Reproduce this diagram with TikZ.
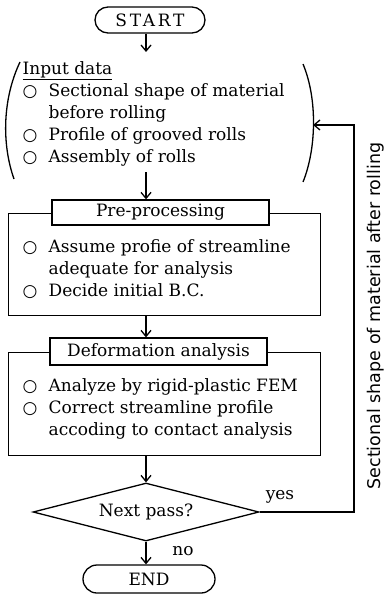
\documentclass[tikz,border=0pt]{standalone}
\usepackage{fontspec}
\setmainfont{DejaVu Serif}
\newfontfamily\sidefont{DejaVu Sans}
\usetikzlibrary{arrows.meta,shapes.geometric}
\newcommand{\bul}{\makebox[26pt][l]{\sidefont ○}}
\newcommand{\ind}{\hspace*{26pt}}
\begin{document}
\begin{tikzpicture}[x=1pt,y=-1pt,line width=1.3pt,
  every node/.style={font=\fontsize{17}{22}\selectfont},
  arr/.style={-{Straight Barb[length=6pt,width=10pt]}},
  term/.style={draw,rounded corners=13pt,minimum width=110pt,minimum height=26pt,inner sep=0pt},
  hdr/.style={draw,fill=white,minimum width=217pt,inner sep=0pt},
  frame/.style={draw,minimum width=312pt,anchor=north west,inner sep=0pt},
  body/.style={align=left,inner sep=0pt,anchor=base west}]
\useasboundingbox (0,0) rectangle (385,596);
% terminals
\node[term] (start) at (150,20) {\addfontfeature{LetterSpace=16}START};
% input data (anchor = baseline of the last line)
\node[body] (input) at (22,162.5) {\underline{Input data}\\
  \bul Sectional shape of material\\
  \ind before rolling\\
  \bul Profile of grooved rolls\\
  \bul Assembly of rolls};
\draw (20,62) .. controls (2,100) and (2,145) .. (14,179);
\draw (303,64) .. controls (318,100) and (316,150) .. (303,182);
\coordinate (inTop) at (146,52);
\coordinate (inBot) at (146,172);
\coordinate (fbIn) at (313,125);
\coordinate (fbx) at (354,125);
% pre-processing
\node[frame,minimum height=102pt] (prebox) at (8,213) {};
\node[hdr,minimum height=25pt] (prehdr) at (160.5,212.5) {Pre-processing};
\node[body] (pretext) at (22,296.5) {\bul Assume profie of streamline\\
  \ind adequate for analysis\\
  \bul Decide initial B.C.};
% deformation analysis
\node[frame,minimum height=103pt] (defbox) at (8,352) {};
\node[hdr,minimum height=27pt] (defhdr) at (158.5,351.5) {Deformation analysis};
\node[body] (deftext) at (22,435.5) {\bul Analyze by rigid-plastic FEM\\
  \bul Correct streamline profile\\
  \ind accoding to contact analysis};
% decision
\node[diamond,draw,shape aspect=3.9,minimum width=226pt,minimum height=58pt,inner sep=0pt] (dec) at (146,512) {Next pass?};
\node[term,minimum width=132pt,minimum height=28pt,rounded corners=14pt] (end) at (149,579) {END};
% connectors
\draw[arr] (start.south -| inTop) -- (inTop);
\draw[arr] (inBot) -- (prehdr.north -| inBot);
\draw[arr] (prebox.south -| inBot) -- (defhdr.north -| inBot);
\draw[arr] (defbox.south -| inBot) -- (dec.north);
\draw[arr] (dec.south) -- (end.north -| dec.south);
\draw[arr] (dec.east) -- (dec.east -| fbx) |- (fbIn);
% labels
\node (yes) at (280,497) {yes};
\node (no) at (183,551) {no};
\node[rotate=90,font=\sidefont\fontsize{17.5}{20}\selectfont] (side) at (376,316) {Sectional shape of material after rolling};
\end{tikzpicture}
\end{document}
